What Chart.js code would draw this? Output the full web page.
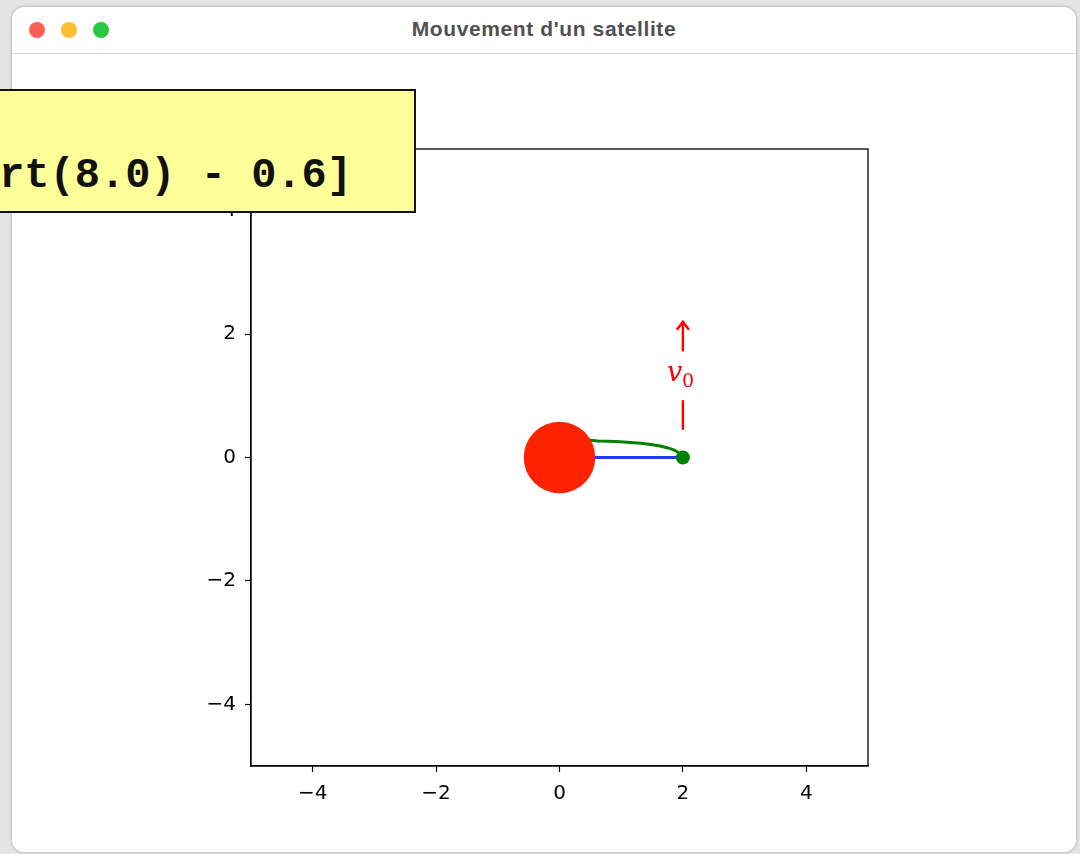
<!DOCTYPE html>
<html lang="fr">
<head>
<meta charset="utf-8">
<title>Mouvement d'un satellite</title>
<script src="https://cdn.jsdelivr.net/npm/chart.js@4.4.1/dist/chart.umd.min.js"></script>
<style>
    html, body { margin: 0; padding: 0; }
    body { width: 1080px; height: 854px; overflow: hidden; background: #e4e4e4; position: relative; font-family: "DejaVu Sans", sans-serif; }
    .window { position: absolute; left: 12px; top: 7px; width: 1064px; height: 845px; background: #fff; border-radius: 12px; box-shadow: 0 0 3px rgba(0,0,0,0.35); }
    .titlebar { height: 46px; border-bottom: 1px solid #dadada; position: relative; }
    .titlebar .title { position: absolute; left: 0; right: 0; top: 10px; text-align: center; font-family: "Liberation Sans", sans-serif; font-weight: bold; font-size: 21px; letter-spacing: 0.6px; color: #505050; }
    .dot { position: absolute; top: 15px; width: 16px; height: 16px; border-radius: 50%; }
    #chart { position: absolute; left: 0; top: 0; z-index: 1; }
    .note { position: absolute; z-index: 2; left: -500px; top: 89px; width: 912px; height: 120px; background: #ffff99; border: 2px solid #111; box-sizing: content-box; }
    .note div { position: absolute; right: 62px; font-family: "Liberation Mono", monospace; font-weight: bold; font-size: 42px; color: #111; white-space: pre; }
</style>
</head>
<body>
<div class="window">
    <div class="titlebar">
        <div class="dot" style="left:17px;background:#ff5f57"></div>
        <div class="dot" style="left:49px;background:#febc2e"></div>
        <div class="dot" style="left:81px;background:#28c840"></div>
        <div class="title">Mouvement d'un satellite</div>
    </div>
</div>
<canvas id="chart" width="1080" height="854"></canvas>
<div class="note">
    <div style="top:61px">sqrt(8.0) - 0.6]</div>
</div>
<script>
// axis settings
const axisMin = -5;
const axisMax = 5;
const tickValues = [-4, -2, 0, 2, 4];

// Earth and satellite
const earthPos = [0, 0];
const earthRadius = 0.58;
const satPos = [2, 0];

// trajectory
const trajX = [2.0, 1.97, 1.92, 1.85, 1.76, 1.63, 1.48, 1.32, 1.15, 0.98, 0.8, 0.62, 0.49];
const trajY = [0.0, 0.04, 0.085, 0.125, 0.155, 0.185, 0.21, 0.23, 0.245, 0.255, 0.262, 0.266, 0.28];

// initial velocity marker
const vArrowX = 2;
const vStemLow = [0.45, 0.93];
const vStemHigh = [1.72, 2.2];
const vLabelY = 1.36;

const toPoints = (xs, ys) => xs.map((x, i) => ({ x: x, y: ys[i] }));

function fmtTick(v) {
    return v < 0 ? '\u2212' + Math.abs(v) : String(v);
}

const framePlugin = {
    id: 'frame',
    afterDatasetsDraw(chart) {
        const { ctx, chartArea, scales } = chart;
        ctx.save();
        ctx.strokeStyle = '#000';
        ctx.lineWidth = 1.3;
        ctx.strokeRect(chartArea.left, chartArea.top, chartArea.right - chartArea.left, chartArea.bottom - chartArea.top);

        // arrow head on the v0 marker
        const px = scales.x.getPixelForValue(vArrowX);
        const tip = scales.y.getPixelForValue(vStemHigh[1]);
        ctx.strokeStyle = '#ff0000';
        ctx.lineWidth = 2.4;
        ctx.beginPath();
        ctx.moveTo(px - 6, tip + 8);
        ctx.lineTo(px, tip);
        ctx.lineTo(px + 6, tip + 8);
        ctx.stroke();

        // v0 label
        const ly = scales.y.getPixelForValue(vLabelY);
        ctx.fillStyle = '#ff0000';
        ctx.textBaseline = 'alphabetic';
        ctx.font = 'italic 27px "DejaVu Serif"';
        ctx.fillText('v', px - 16, ly + 7);
        ctx.font = '19px "DejaVu Serif"';
        ctx.fillText('0', px - 1, ly + 13);
        ctx.restore();
    }
};

const ctx = document.getElementById('chart').getContext('2d');

new Chart(ctx, {
    type: 'scatter',
    data: {
        datasets: [
            {
                label: 'Terre',
                data: [{ x: earthPos[0], y: earthPos[1] }],
                backgroundColor: '#ff2200',
                borderWidth: 0,
                pointRadius: c => c.chart.scales.x ? c.chart.scales.x.getPixelForValue(earthRadius) - c.chart.scales.x.getPixelForValue(0) : 36,
                pointHoverRadius: 36
            },
            {
                label: 'Satellite',
                data: [{ x: satPos[0], y: satPos[1] }],
                backgroundColor: '#008000',
                borderWidth: 0,
                pointRadius: 7
            },
            {
                label: 'Trajectoire',
                data: toPoints(trajX, trajY),
                showLine: true,
                borderColor: '#008000',
                borderWidth: 3,
                pointRadius: 0,
                tension: 0
            },
            {
                label: 'Rayon',
                data: toPoints([earthPos[0], satPos[0]], [earthPos[1], satPos[1]]),
                showLine: true,
                borderColor: '#1f3fe6',
                borderWidth: 3,
                pointRadius: 0
            },
            {
                label: 'v0 bas',
                data: toPoints([vArrowX, vArrowX], vStemLow),
                showLine: true,
                borderColor: '#ff0000',
                borderWidth: 2.4,
                pointRadius: 0
            },
            {
                label: 'v0 haut',
                data: toPoints([vArrowX, vArrowX], vStemHigh),
                showLine: true,
                borderColor: '#ff0000',
                borderWidth: 2.4,
                pointRadius: 0
            }
        ]
    },
    options: {
        responsive: false,
        animation: false,
        layout: { padding: { left: 200, top: 149, right: 212, bottom: 48 } },
        plugins: {
            legend: { display: false },
            tooltip: { enabled: false }
        },
        scales: {
            x: {
                type: 'linear',
                min: axisMin,
                max: axisMax,
                afterBuildTicks: axis => { axis.ticks = tickValues.map(v => ({ value: v })); },
                afterFit: axis => { axis.height = 40; },
                grid: { drawOnChartArea: false, drawTicks: true, tickLength: 6, tickColor: '#000', tickWidth: 1.2 },
                border: { display: true, color: '#000', width: 1.3 },
                ticks: { color: '#000', padding: 10, maxRotation: 0, font: { family: 'DejaVu Sans', size: 20 }, callback: fmtTick }
            },
            y: {
                type: 'linear',
                min: axisMin,
                max: axisMax,
                afterBuildTicks: axis => { axis.ticks = tickValues.map(v => ({ value: v })); },
                afterFit: axis => { axis.width = 51; },
                grid: { drawOnChartArea: false, drawTicks: true, tickLength: 6, tickColor: '#000', tickWidth: 1.2 },
                border: { display: true, color: '#000', width: 1.3 },
                ticks: { color: '#000', padding: 9, font: { family: 'DejaVu Sans', size: 20 }, callback: fmtTick }
            }
        }
    },
    plugins: [framePlugin]
});
</script>
</body>
</html>
